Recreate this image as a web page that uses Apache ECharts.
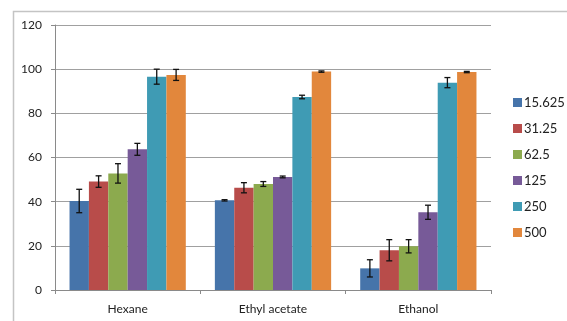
<!DOCTYPE html>
<html><head><meta charset="utf-8">
<script src="https://cdn.jsdelivr.net/npm/echarts@6/dist/echarts.min.js"></script>
<style>html,body{margin:0;padding:0;background:#fff}#c{width:567px;height:321px}</style>
</head><body><div id="c"></div>
<script>
var categories = ['Hexane', 'Ethyl acetate', 'Ethanol'];
var seriesNames = ['15.625', '31.25', '62.5', '125', '250', '500'];
var v15625 = [40.3, 40.6, 9.8];
var v3125 = [49.1, 46.3, 18.0];
var v625 = [52.8, 48.0, 19.8];
var v125 = [63.7, 51.2, 35.2];
var v250 = [96.6, 87.4, 93.9];
var v500 = [97.4, 98.9, 98.7];
var e15625 = [5.3, 0.3, 3.9];
var e3125 = [2.6, 2.3, 4.8];
var e625 = [4.4, 1.1, 3.0];
var e125 = [2.7, 0.4, 3.2];
var e250 = [3.4, 0.8, 2.3];
var e500 = [2.5, 0.3, 0.3];
var yTicks = [0, 20, 40, 60, 80, 100, 120];

var values = [v15625, v3125, v625, v125, v250, v500];
var errors = [e15625, e3125, e625, e125, e250, e500];
var colors = ['#4674AA', '#B84C4A', '#8CAA4E', '#775A98', '#3F9BB4', '#E2873C'];
var catGap = 0.2;
var nS = seriesNames.length;

var series = [];
values.forEach(function (vals, si) {
  series.push({
    name: seriesNames[si], type: 'bar', data: vals,
    barGap: '0%', barCategoryGap: (catGap * 100) + '%',
    itemStyle: { color: colors[si] }
  });
});
var errData = [];
values.forEach(function (vals, si) {
  vals.forEach(function (v, ci) { errData.push([ci, v, errors[si][ci], si]); });
});
series.push({
  type: 'custom', silent: true, z: 10,
  data: errData,
  encode: { x: 0, y: 1 },
  renderItem: function (params, api) {
    var ci = api.value(0), v = api.value(1), e = api.value(2), si = api.value(3);
    var band = api.size([1, 0])[0];
    var group = band * (1 - catGap);
    var bw = group / nS;
    var c = api.coord([ci, v]);
    var x = c[0] - group / 2 + bw * (si + 0.5);
    var yt = api.coord([ci, v + e])[1];
    var yb = api.coord([ci, v - e])[1];
    var cap = 3;
    var st = { stroke: '#111', lineWidth: 1.3 };
    return { type: 'group', children: [
      { type: 'line', shape: { x1: x, y1: yt, x2: x, y2: yb }, style: st },
      { type: 'line', shape: { x1: x - cap, y1: yt, x2: x + cap, y2: yt }, style: st },
      { type: 'line', shape: { x1: x - cap, y1: yb, x2: x + cap, y2: yb }, style: st }
    ]};
  }
});

var chart = echarts.init(document.getElementById('c'));
chart.setOption({
  animation: false,
  backgroundColor: '#fff',
  textStyle: { fontFamily: 'Lato, "Open Sans", sans-serif' },
  graphic: [{ type: 'rect', left: 11, top: 9, shape: { width: 600, height: 400 },
    style: { fill: 'none', stroke: '#c4c4c4', lineWidth: 1.5 }, z: -1 }],
  grid: { left: 55, right: 76, top: 25, bottom: 31 },
  legend: {
    orient: 'vertical', left: 513, top: 96, padding: 0, itemWidth: 9, itemHeight: 9, itemGap: 13,
    icon: 'rect', data: seriesNames,
    textStyle: { fontSize: 13, color: '#222', padding: [0, 0, 0, -3] }
  },
  xAxis: {
    type: 'category', data: categories,
    axisLine: { lineStyle: { color: '#8a8a8a', width: 1 } },
    axisTick: { show: true, length: 4, lineStyle: { color: '#8a8a8a' } },
    axisLabel: { fontSize: 12, color: '#222', margin: 13 }
  },
  yAxis: {
    type: 'value', min: yTicks[0], max: yTicks[yTicks.length - 1], interval: 20,
    axisLine: { show: true, lineStyle: { color: '#8a8a8a', width: 1 } },
    axisTick: { show: true, length: 4, lineStyle: { color: '#8a8a8a' } },
    axisLabel: { fontSize: 12, color: '#222', margin: 13 },
    splitLine: { lineStyle: { color: '#a0a0a0', width: 1 } }
  },
  series: series
});
</script></body></html>
